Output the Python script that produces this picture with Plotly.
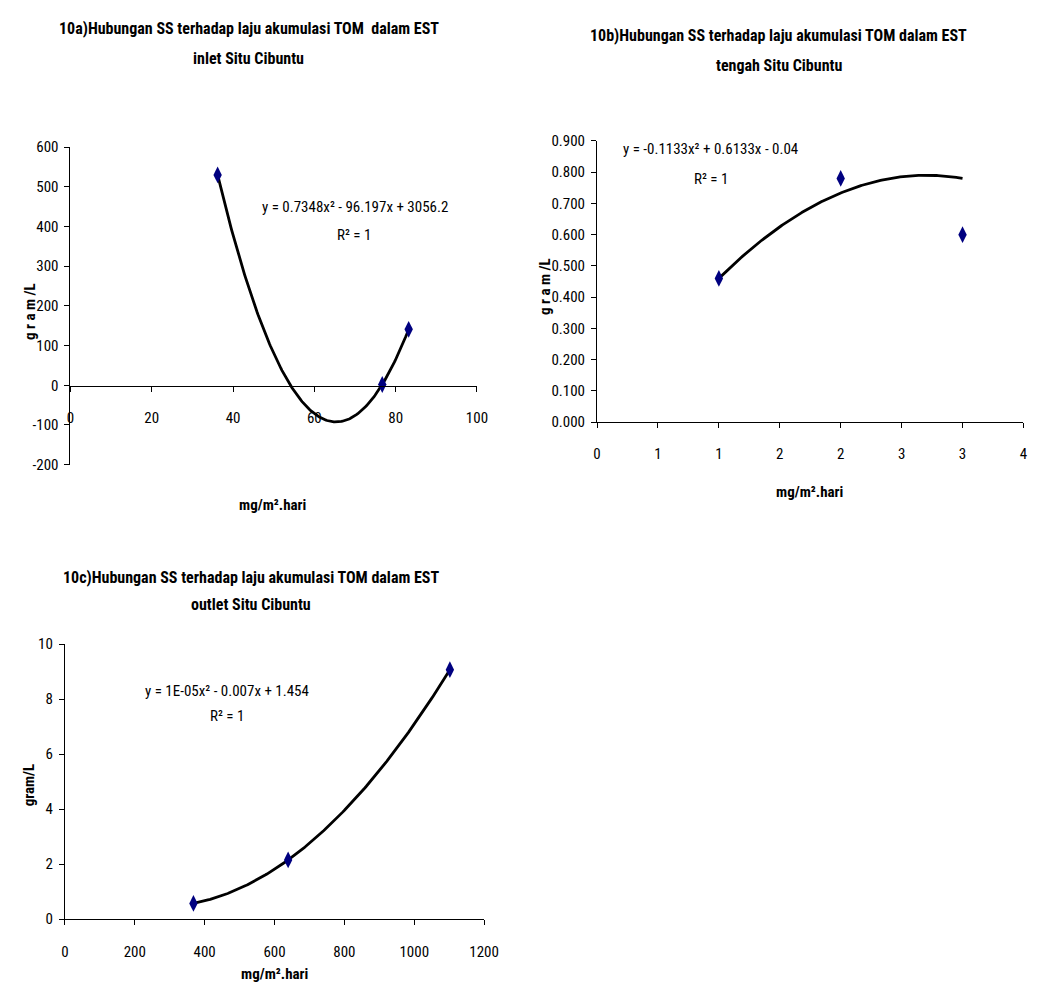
import numpy as np
import plotly.graph_objects as go

# ---- data ----
a_x = [36.2, 76.7, 83.2]
a_y = [530, 2, 141]
a_eq = "y = 0.7348x² - 96.197x + 3056.2"
a_yticks = [-200, -100, 0, 100, 200, 300, 400, 500, 600]
a_yticktext = ["-200", "-100", "0", "100", "200", "300", "400", "500", "600"]

b_x = [1.0, 2.0, 3.0]
b_y = [0.46, 0.78, 0.60]
b_trend_coef = [-0.1133, 0.6133, -0.04]
b_eq = "y = -0.1133x² + 0.6133x - 0.04"
b_tickvals = [0, 0.5, 1.0, 1.5, 2.0, 2.5, 3.0, 3.5]
b_ticktext = ["0", "1", "1", "2", "2", "3", "3", "4"]

c_x = [368, 639, 1102]
c_y = [0.57, 2.15, 9.07]
c_eq = "y = 1E-05x² - 0.007x + 1.454"

r2_text = "R² = 1"
title_a = ["10a)Hubungan SS terhadap laju akumulasi TOM  dalam EST", "inlet Situ Cibuntu"]
title_b = ["10b)Hubungan SS terhadap laju akumulasi TOM dalam EST", "tengah Situ Cibuntu"]
title_c = ["10c)Hubungan SS terhadap laju akumulasi TOM dalam EST", "outlet Situ Cibuntu"]
xlabel = "mg/m².hari"

FONT = "Roboto Condensed, Liberation Sans, Arial, sans-serif"
W, H = 1047, 1003
MARK = dict(symbol="diamond-tall", size=12, color="#000080")
LINE = dict(color="black", width=2.8)


def trend_from_points(xs, ys):
    c = np.polyfit(xs, ys, 2)
    t = np.linspace(min(xs), max(xs), 200)
    return t, np.polyval(c, t)


fig = go.Figure()

# chart a
ta, va = trend_from_points(a_x, a_y)
fig.add_trace(go.Scatter(x=ta, y=va, mode="lines", line=LINE, xaxis="x", yaxis="y", showlegend=False))
fig.add_trace(go.Scatter(x=a_x, y=a_y, mode="markers", marker=MARK, xaxis="x", yaxis="y", showlegend=False))

# chart b
tb = np.linspace(min(b_x), max(b_x), 200)
vb = np.polyval(b_trend_coef, tb)
fig.add_trace(go.Scatter(x=tb, y=vb, mode="lines", line=LINE, xaxis="x2", yaxis="y2", showlegend=False))
fig.add_trace(go.Scatter(x=b_x, y=b_y, mode="markers", marker=MARK, xaxis="x2", yaxis="y2", showlegend=False))

# chart c
tc, vc = trend_from_points(c_x, c_y)
fig.add_trace(go.Scatter(x=tc, y=vc, mode="lines", line=LINE, xaxis="x3", yaxis="y3", showlegend=False))
fig.add_trace(go.Scatter(x=c_x, y=c_y, mode="markers", marker=MARK, xaxis="x3", yaxis="y3", showlegend=False))


def px(x):
    return x / W


def py(y):
    return 1 - y / H


tickfont = dict(family=FONT, size=15, color="black")
axcommon = dict(showgrid=False, zeroline=False, showline=True, linecolor="black", linewidth=1,
                ticks="outside", ticklen=5, tickcolor="black", tickwidth=1, tickfont=tickfont)

fig.update_layout(
    width=W, height=H,
    margin=dict(l=0, r=0, t=0, b=0),
    paper_bgcolor="white", plot_bgcolor="rgba(0,0,0,0)",
    font=dict(family=FONT, size=15, color="black"),
    xaxis=dict(domain=[px(67.7), px(481.7)], range=[0, 100], tickvals=[0, 20, 40, 60, 80, 100],
               anchor="free", position=py(384.3), ticklabelstandoff=13, **axcommon),
    yaxis=dict(domain=[py(464), py(140.7)], range=[-200, 600], tickvals=a_yticks, ticktext=a_yticktext,
               anchor="x", ticklabelstandoff=3, **axcommon),
    xaxis2=dict(domain=[px(604), px(1038.3)], range=[0, 3.5], tickvals=b_tickvals, ticktext=b_ticktext,
                anchor="y2", ticklabelstandoff=13, **axcommon),
    yaxis2=dict(domain=[py(420.7), py(134.3)], range=[0, 0.9], tickvals=[i / 10 for i in range(10)],
                tickformat=".3f", anchor="x2", ticklabelstandoff=3, **axcommon),
    xaxis3=dict(domain=[px(62), px(489)], range=[0, 1200], tickvals=list(range(0, 1201, 200)),
                anchor="y3", ticklabelstandoff=14, **axcommon),
    yaxis3=dict(domain=[py(926.7), py(646.7)], range=[0, 10], tickvals=list(range(0, 11, 2)),
                anchor="x3", ticklabelstandoff=3, **axcommon),
)

ann = []


def add_text(text, x, y, size=15, bold=False, angle=None):
    d = dict(text=text, x=px(x), y=py(y), xref="paper", yref="paper",
             xanchor="center", yanchor="middle", showarrow=False,
             font=dict(family=FONT, size=size, color="black", weight="bold" if bold else "normal"))
    if angle is not None:
        d["textangle"] = angle
    ann.append(d)


# titles
add_text(title_a[0], 250, 20, size=16, bold=True)
add_text(title_a[1], 249, 50, size=16, bold=True)
add_text(title_b[0], 789, 27, size=16, bold=True)
add_text(title_b[1], 789, 58, size=16, bold=True)
add_text(title_c[0], 252, 579, size=16, bold=True)
add_text(title_c[1], 252, 606, size=16, bold=True)
# axis titles
add_text("g r a m /L", 27, 308, size=15, bold=True, angle=-90)
add_text(xlabel, 273, 505, size=15, bold=True)
add_text("g r a m /L", 551, 283, size=15, bold=True, angle=-90)
add_text(xlabel, 820, 492, size=15, bold=True)
add_text("gram/L", 25, 790, size=15, bold=True, angle=-90)
add_text(xlabel, 275, 983, size=15, bold=True)
# equations
add_text(a_eq, 357, 202, size=15)
add_text(r2_text, 356, 230, size=15)
add_text(b_eq, 720, 143, size=15)
add_text(r2_text, 720, 173, size=15)
add_text(c_eq, 227, 694, size=15)
add_text(r2_text, 227, 720, size=15)

fig.update_layout(annotations=ann)
fig.write_html("out.html")
